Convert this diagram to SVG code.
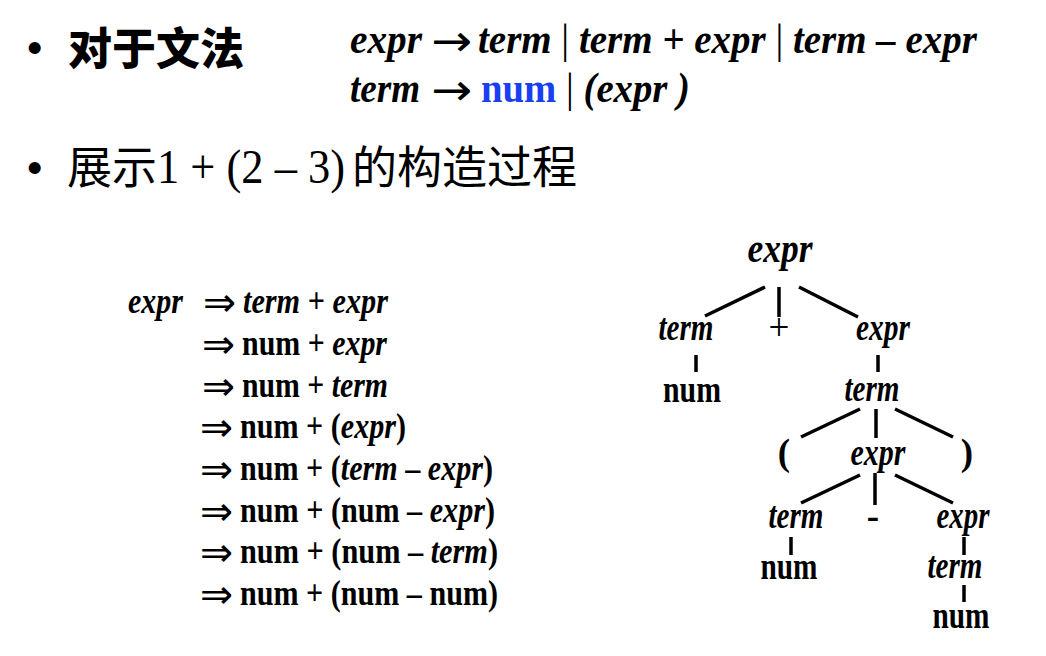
<svg xmlns="http://www.w3.org/2000/svg" width="1046" height="656" viewBox="0 0 1046 656">
<style>
.s{font-family:"Liberation Serif","Times New Roman",serif;fill:#000}
.bi{font-weight:bold;font-style:italic}
.b{font-weight:bold}
.r{font-weight:normal;font-style:normal}
.ar{font-family:"DejaVu Sans",sans-serif;font-size:44px;fill:#000}
.dar{font-family:"DejaVu Sans",sans-serif;font-size:40px;fill:#000}
.cjk{font-family:"Noto Sans CJK SC","Noto Sans",sans-serif;fill:#000}
.blt{font-family:"Liberation Sans",Arial,sans-serif;font-size:44px;fill:#000}
.t{font-size:37px;text-anchor:middle}
.edge{stroke:#000;stroke-width:3.5;fill:none;stroke-linecap:butt}
</style>
<rect width="1046" height="656" fill="#fff"/>
<g id="header">
  <text class="blt" x="27" y="63">•</text>
  <text class="cjk" x="68" y="65" font-size="44" font-weight="900">对于文法</text>
  <text class="s bi" x="350" y="53" font-size="42" textLength="72" lengthAdjust="spacingAndGlyphs">expr</text>
  <text class="ar" x="431" y="56" textLength="41" lengthAdjust="spacingAndGlyphs">→</text>
  <text class="s bi" x="478" y="53" font-size="42" textLength="499" lengthAdjust="spacingAndGlyphs">term <tspan class="r">|</tspan> term + expr <tspan class="r">|</tspan> term – expr</text>
  <text class="s bi" x="350" y="102" font-size="42" textLength="70" lengthAdjust="spacingAndGlyphs">term</text>
  <text class="ar" x="431" y="105" textLength="41" lengthAdjust="spacingAndGlyphs">→</text>
  <text class="s bi" x="481" y="102" font-size="42" textLength="209" lengthAdjust="spacingAndGlyphs"><tspan font-style="normal" fill="#1a3ff0">num</tspan> <tspan class="r">|</tspan> (expr )</text>
  <text class="blt" x="27" y="183">•</text>
  <text class="cjk" x="67" y="184" font-size="45">展示</text>
  <text class="s" x="157" y="183" font-size="48" textLength="188" lengthAdjust="spacingAndGlyphs">1 + (2 – 3)</text>
  <text class="cjk" x="352" y="184" font-size="45">的构造过程</text>
</g>
<g id="derivation" class="s" font-size="36">
  <text class="bi" x="128" y="313" textLength="55" lengthAdjust="spacingAndGlyphs">expr</text>
  <text class="dar" x="203" y="316" textLength="33" lengthAdjust="spacingAndGlyphs">⇒</text>
  <text x="243" y="313" textLength="145" lengthAdjust="spacingAndGlyphs"><tspan class="bi">term</tspan> <tspan class="b">+</tspan> <tspan class="bi">expr</tspan></text>
  <text class="dar" x="202" y="358" textLength="33" lengthAdjust="spacingAndGlyphs">⇒</text>
  <text x="242" y="355" textLength="145" lengthAdjust="spacingAndGlyphs"><tspan class="b">num +</tspan> <tspan class="bi">expr</tspan></text>
  <text class="dar" x="202" y="400" textLength="33" lengthAdjust="spacingAndGlyphs">⇒</text>
  <text x="242" y="397" textLength="146" lengthAdjust="spacingAndGlyphs"><tspan class="b">num +</tspan> <tspan class="bi">term</tspan></text>
  <text class="dar" x="200" y="441" textLength="33" lengthAdjust="spacingAndGlyphs">⇒</text>
  <text x="240" y="438" textLength="166" lengthAdjust="spacingAndGlyphs"><tspan class="b">num + (</tspan><tspan class="bi">expr</tspan><tspan class="b">)</tspan></text>
  <text class="dar" x="200" y="483" textLength="33" lengthAdjust="spacingAndGlyphs">⇒</text>
  <text x="240" y="480" textLength="253" lengthAdjust="spacingAndGlyphs"><tspan class="b">num + (</tspan><tspan class="bi">term</tspan><tspan class="b"> – </tspan><tspan class="bi">expr</tspan><tspan class="b">)</tspan></text>
  <text class="dar" x="200" y="525" textLength="33" lengthAdjust="spacingAndGlyphs">⇒</text>
  <text x="240" y="522" textLength="255" lengthAdjust="spacingAndGlyphs"><tspan class="b">num + (num – </tspan><tspan class="bi">expr</tspan><tspan class="b">)</tspan></text>
  <text class="dar" x="200" y="566" textLength="33" lengthAdjust="spacingAndGlyphs">⇒</text>
  <text x="240" y="563" textLength="258" lengthAdjust="spacingAndGlyphs"><tspan class="b">num + (num – </tspan><tspan class="bi">term</tspan><tspan class="b">)</tspan></text>
  <text class="dar" x="200" y="608" textLength="33" lengthAdjust="spacingAndGlyphs">⇒</text>
  <text x="240" y="605" textLength="258" lengthAdjust="spacingAndGlyphs"><tspan class="b">num + (num – num)</tspan></text>
</g>
<g id="connectors">
  <line class="edge" x1="765" y1="287" x2="705" y2="316"/>
  <line class="edge" x1="779" y1="287" x2="779" y2="317"/>
  <line class="edge" x1="799" y1="287" x2="858" y2="317"/>
  <line class="edge" x1="696" y1="355" x2="696" y2="372"/>
  <line class="edge" x1="878" y1="355" x2="878" y2="372"/>
  <line class="edge" x1="860" y1="409" x2="801" y2="437"/>
  <line class="edge" x1="876" y1="409" x2="876" y2="438"/>
  <line class="edge" x1="895" y1="409" x2="953" y2="437"/>
  <line class="edge" x1="860" y1="475" x2="801" y2="503"/>
  <line class="edge" x1="875" y1="473" x2="875" y2="505"/>
  <line class="edge" x1="895" y1="475" x2="953" y2="503"/>
  <line class="edge" x1="791" y1="537" x2="791" y2="555"/>
  <line class="edge" x1="964" y1="537" x2="964" y2="555"/>
  <line class="edge" x1="964" y1="585" x2="964" y2="602"/>
</g>
<g id="n-root"><text class="s bi" x="780" y="262" font-size="42" text-anchor="middle" textLength="65" lengthAdjust="spacingAndGlyphs">expr</text></g>
<g id="n-term1"><text class="s bi t" x="686" y="340" textLength="55" lengthAdjust="spacingAndGlyphs">term</text></g>
<g id="n-plus"><text class="s t" x="779" y="340">+</text></g>
<g id="n-expr1"><text class="s bi t" x="883" y="340" textLength="54" lengthAdjust="spacingAndGlyphs">expr</text></g>
<g id="n-num1"><text class="s b t" x="692" y="402" textLength="58" lengthAdjust="spacingAndGlyphs">num</text></g>
<g id="n-term2"><text class="s bi t" x="872" y="401" textLength="55" lengthAdjust="spacingAndGlyphs">term</text></g>
<g id="n-lp"><text class="s b t" x="784" y="465">(</text></g>
<g id="n-expr2"><text class="s bi t" x="878" y="465" textLength="55" lengthAdjust="spacingAndGlyphs">expr</text></g>
<g id="n-rp"><text class="s b t" x="967" y="465">)</text></g>
<g id="n-term3"><text class="s bi t" x="796" y="528" textLength="55" lengthAdjust="spacingAndGlyphs">term</text></g>
<g id="n-minus"><text class="s b t" x="873" y="528">-</text></g>
<g id="n-expr3"><text class="s bi t" x="963" y="528" textLength="53" lengthAdjust="spacingAndGlyphs">expr</text></g>
<g id="n-num2"><text class="s b t" x="789" y="579" textLength="57" lengthAdjust="spacingAndGlyphs">num</text></g>
<g id="n-term4"><text class="s bi t" x="955" y="578" textLength="55" lengthAdjust="spacingAndGlyphs">term</text></g>
<g id="n-num3"><text class="s b t" x="961" y="628" textLength="57" lengthAdjust="spacingAndGlyphs">num</text></g>
</svg>
